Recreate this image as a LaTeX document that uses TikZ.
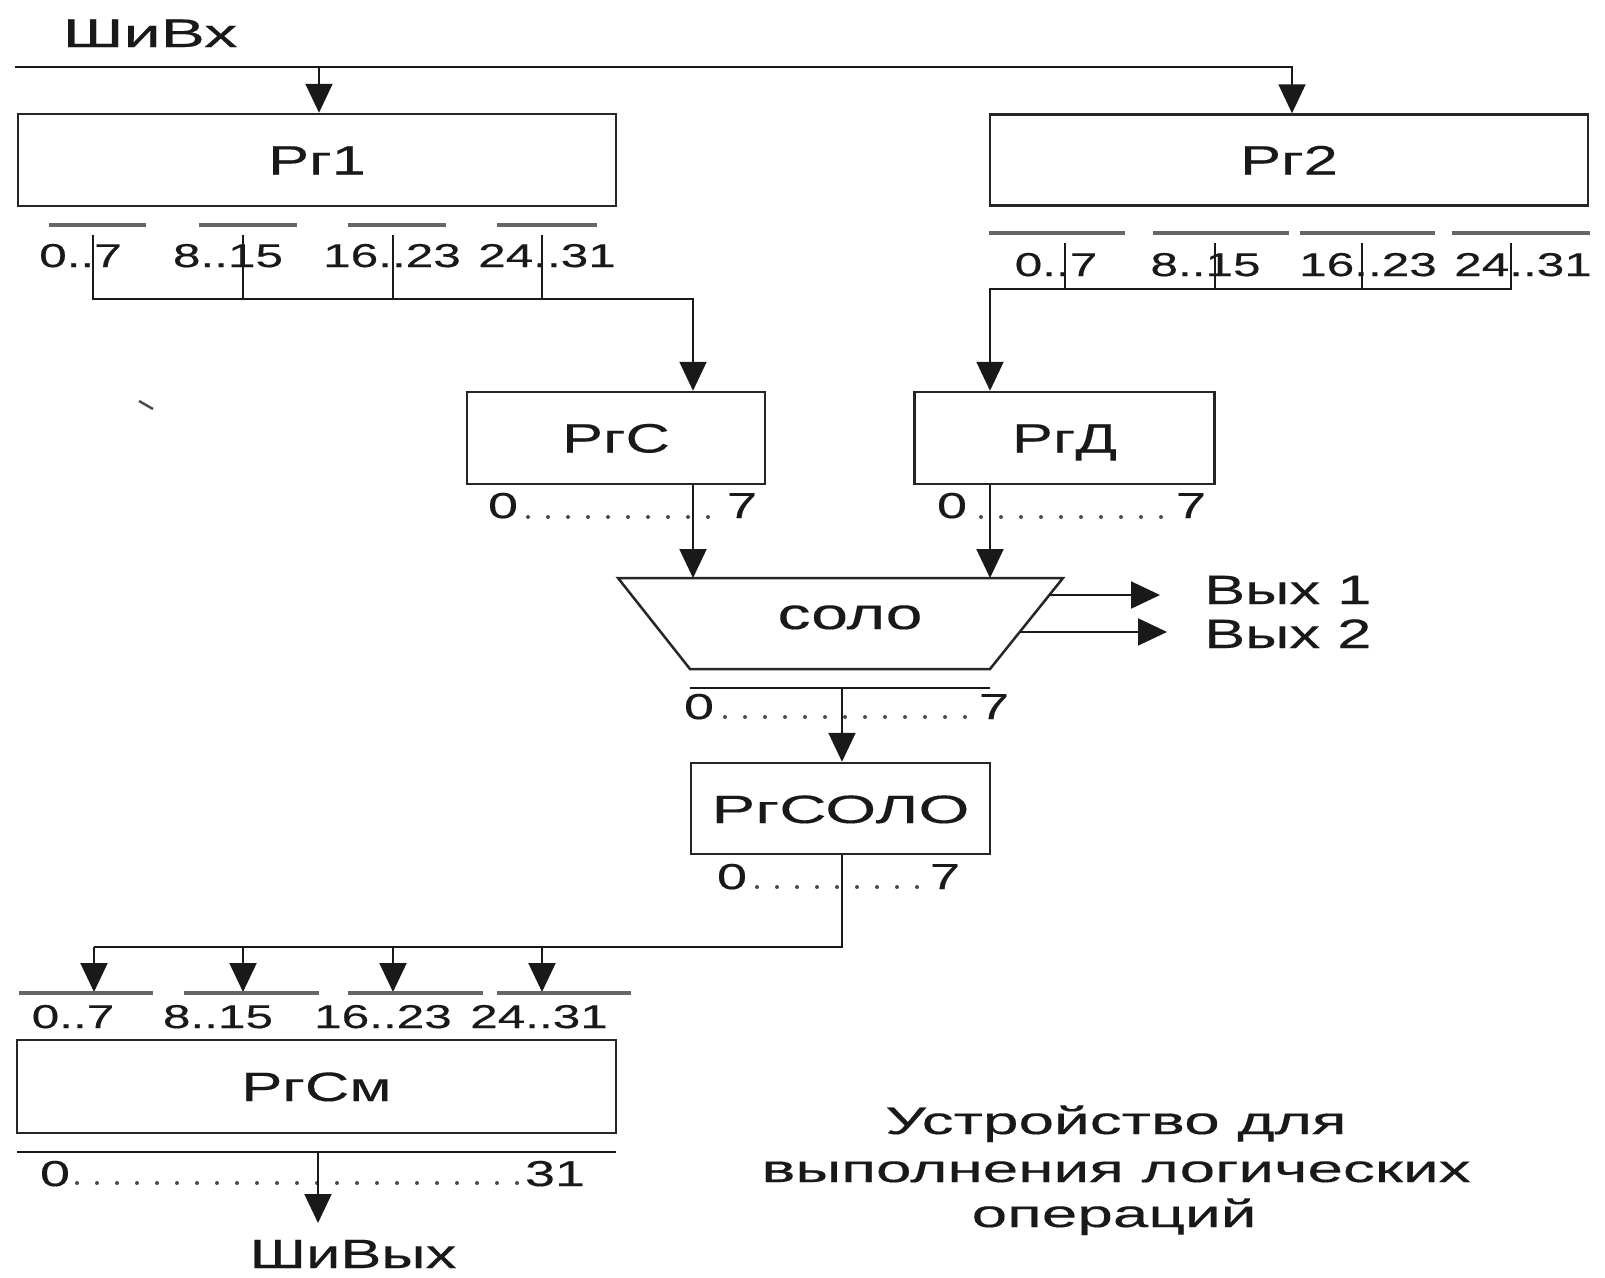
\documentclass[tikz,border=0pt]{standalone}
\usepackage{fontspec}
\setmainfont[FakeStretch=1.5,FakeBold=0.3]{Liberation Sans}
\newfontfamily\wfont[FakeStretch=1.66,FakeBold=0.3]{Liberation Sans}
\usetikzlibrary{arrows.meta,calc}
\begin{document}
\begin{tikzpicture}[x=1pt,y=-1pt,
  reg/.style={draw=black!85, line width=2.5pt, fill=white, inner sep=0pt, text=black!90,
    font=\fontsize{41}{41}\selectfont, text height=29pt, text depth=0pt},
  lbl/.style={inner sep=0pt, text=black!90, anchor=base},
  big/.style={font=\fontsize{41}{41}\selectfont},
  bits/.style={font=\fontsize{33}{33}\selectfont},
  rng/.style={font=\fontsize{36}{36}\selectfont},
  wire/.style={line width=2pt, draw=black!90},
  arr/.style={wire, -{Triangle[length=29pt,width=27pt]}},
  bar/.style={line width=4pt, draw=black!60},
  dotline/.style={line width=4pt, draw=black!70, dash pattern=on 0pt off 20pt, line cap=round},
  ]
\useasboundingbox (0,0) rectangle (1605,1277);
\fill[white] (0,0) rectangle (1605,1277);

% ---- registers
\node[reg, minimum width=598pt, minimum height=92pt] (rg1) at (317,160) {Рг1};
\node[reg, minimum width=598pt, minimum height=91pt] (rg2) at (1289,160) {Рг2};
\node[reg, minimum width=298pt, minimum height=92pt] (rgC) at (616,438) {РгС};
\node[reg, minimum width=300pt, minimum height=92pt] (rgD) at (1064.5,438) {РгД};
\node[reg, minimum width=299pt, minimum height=91pt, font=\wfont\fontsize{39.5}{39.5}\selectfont] (rgSolo) at (840.5,808.5) {РгСОЛО};
\node[reg, minimum width=599pt, minimum height=93pt] (rgSm) at (316.5,1086.5) {РгСм};

% ---- input bus
\node[lbl, font=\wfont\fontsize{40}{40}\selectfont] (shivx) at (150,47) {ШиВх};
\coordinate (busL) at (15,67);
\coordinate (busR) at (1292,67);
\coordinate (busJ) at (319,67);
\draw[arr] (busL) -- (busR) -- (busR |- rg2.north);
\draw[arr] (busJ) -- (busJ |- rg1.north);

% ---- Rg1 byte fields
\foreach \a/\b in {49/146,199/297,348/446,497/597} \draw[bar] (\a,225) -- (\b,225);
\node[lbl, bits] (r1b0) at (80.5,267) {0..7};
\node[lbl, bits] (r1b1) at (228,267) {8..15};
\node[lbl, bits] (r1b2) at (392,267) {16..23};
\node[lbl, bits] (r1b3) at (547,267) {24..31};
\coordinate (t1a) at (93,235);
\coordinate (t1b) at (243,235);
\coordinate (t1c) at (393,235);
\coordinate (t1d) at (542,235);
\coordinate (h1L) at (93,299);
\coordinate (h1R) at (693,299);
\foreach \t in {t1b,t1c,t1d} \draw[wire] (\t) -- (\t |- h1L);
\draw[arr] (t1a) -- (h1L) -- (h1R) -- (h1R |- rgC.north);

% ---- Rg2 byte fields
\foreach \a/\b in {989/1125,1153/1289,1300/1435,1452/1590} \draw[bar] (\a,233) -- (\b,233);
\node[lbl, bits] (r2b0) at (1056,276) {0..7};
\node[lbl, bits] (r2b1) at (1205.5,276) {8..15};
\node[lbl, bits] (r2b2) at (1368,276) {16..23};
\node[lbl, bits] (r2b3) at (1523,276) {24..31};
\coordinate (t2a) at (1065,243);
\coordinate (t2b) at (1215,243);
\coordinate (t2c) at (1362,243);
\coordinate (t2d) at (1511,243);
\coordinate (h2L) at (990,289);
\coordinate (h2R) at (1511,289);
\foreach \t in {t2a,t2b,t2c} \draw[wire] (\t) -- (\t |- h2L);
\draw[arr] (t2d) -- (h2R) -- (h2L) -- (h2L |- rgD.north);

% ---- stray mark
\draw[line width=2.5pt, black!70] (139,401) -- (153,409);

% ---- C / D ranges
\node[lbl, rng] (c0) at (503,518) {0};
\node[lbl, rng] (c7) at (742,518) {7};
\draw[dotline] (528,517) -- (722,517);
\node[lbl, rng] (d0) at (952,518) {0};
\node[lbl, rng] (d7) at (1191,518) {7};
\draw[dotline] (981,517) -- (1175,517);

% ---- ALU (trapezoid)
\coordinate (tl) at (618,578);
\coordinate (tr) at (1063,578);
\coordinate (br) at (990,669);
\coordinate (bl) at (690,669);
\draw[line width=2.5pt, draw=black!85, fill=white] (tl) -- (tr) -- (br) -- (bl) -- cycle;
\node[lbl, font=\fontsize{44}{44}\selectfont] (solo) at (850,629) {соло};
\coordinate (inC) at (693,578);
\coordinate (inD) at (990,578);
\draw[arr] (rgC.south -| inC) -- (inC);
\draw[arr] (rgD.south -| inD) -- (inD);
\coordinate (o1) at ($(tr)!0.187!(br)$);
\coordinate (o2) at ($(tr)!0.593!(br)$);
\coordinate (o1e) at (1160,595);
\coordinate (o2e) at (1167,632);
\draw[arr] (o1) -- (o1 -| o1e);
\draw[arr] (o2) -- (o2 -| o2e);
\node[lbl, big, anchor=base west] (vyh1) at (1204,604) {Вых 1};
\node[lbl, big, anchor=base west] (vyh2) at (1204,648) {Вых 2};

% ---- ALU output
\draw[wire, line width=2.5pt] (690,688) -- (990,688);
\node[lbl, rng] (s0) at (699,719) {0};
\node[lbl, rng] (s7) at (994,719) {7};
\draw[dotline] (725,717) -- (975,717);
\coordinate (sOut) at (842,688);
\draw[arr] (sOut) -- (sOut |- rgSolo.north);

% ---- RgSOLO output
\node[lbl, rng] (q0) at (732,889) {0};
\node[lbl, rng] (q7) at (945,889) {7};
\draw[dotline] (757,887) -- (927,887);
\coordinate (qd) at (842,947);
\coordinate (qL) at (94,947);
\draw[wire] (rgSolo.south -| qd) -- (qd) -- (qL);
\foreach \x in {94,243,393,542} \draw[arr] (\x,947) -- (\x,992);
\foreach \a/\b in {19/153,184/319,348/483,497/631} \draw[bar] (\a,993) -- (\b,993);
\node[lbl, bits] (m0) at (73,1028) {0..7};
\node[lbl, bits] (m1) at (218,1028) {8..15};
\node[lbl, bits] (m2) at (383,1028) {16..23};
\node[lbl, bits] (m3) at (539,1028) {24..31};

% ---- RgSm output
\draw[wire, line width=2.5pt] (17,1152) -- (616,1152);
\node[lbl, rng] (z0) at (55,1186) {0};
\node[lbl, rng] (z31) at (555,1186) {31};
\draw[dotline] (77,1183) -- (523,1183);
\coordinate (outTop) at (318,1152);
\node[lbl, big] (shivyh) at (353,1268) {ШиВых};
\draw[arr] (outTop) -- (318,1223);

% ---- caption
\node[lbl, font=\wfont\fontsize{38.5}{38.5}\selectfont] (cap1) at (1116,1134) {Устройство для};
\node[lbl, font=\wfont\fontsize{38.5}{38.5}\selectfont] (cap2) at (1116,1182) {выполнения логических};
\node[lbl, font=\wfont\fontsize{38.5}{38.5}\selectfont] (cap3) at (1114,1227) {операций};
\end{tikzpicture}
\end{document}
